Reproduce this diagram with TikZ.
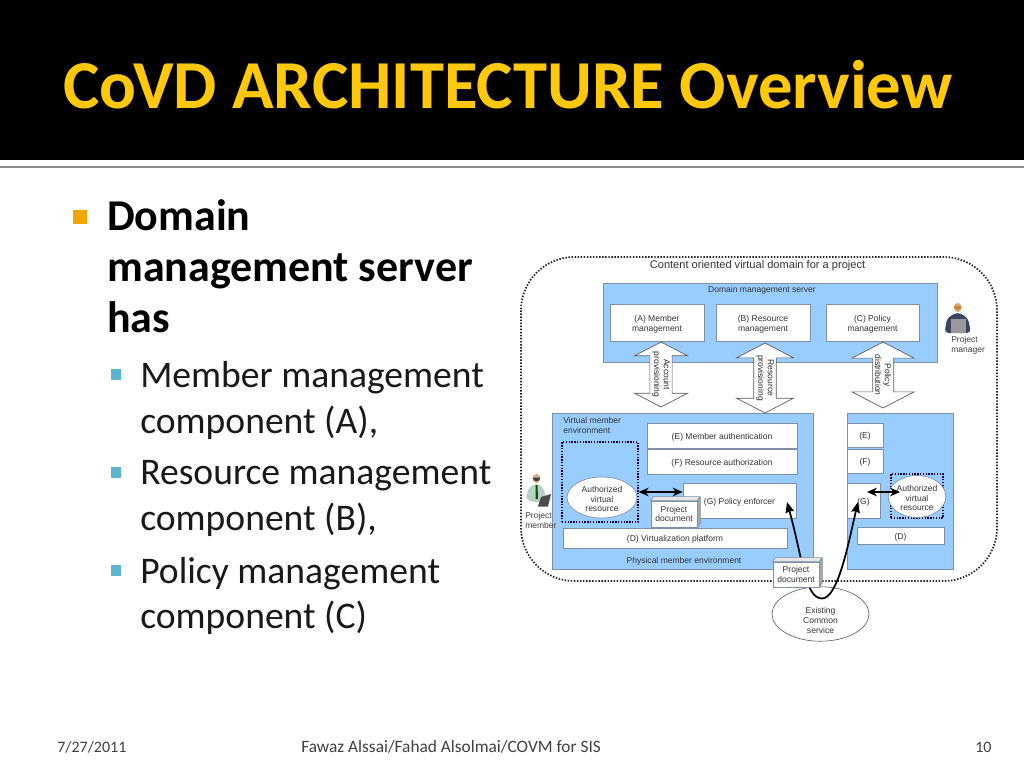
\documentclass[tikz,border=0pt]{standalone}
\usepackage{fontspec}
\setmainfont{Carlito}
\newfontfamily\figfont{Liberation Sans}
\usetikzlibrary{arrows.meta,shapes.geometric,shapes.arrows}
\definecolor{paneblue}{HTML}{99CCFF}
\definecolor{panegrey}{HTML}{7F8FA6}
\definecolor{titlegold}{HTML}{FFC80A}
\definecolor{bulletgold}{HTML}{F0A800}
\definecolor{bulletteal}{HTML}{5BB5CF}
\definecolor{footgrey}{HTML}{404040}
\definecolor{suitnavy}{HTML}{3A4560}
\definecolor{shirtpale}{HTML}{BCCFC6}
\definecolor{skintone}{HTML}{D9A878}
\newlength{\px}
\setlength{\px}{0.75pt}
\tikzset{
    pane/.style={rectangle,draw=panegrey,fill=paneblue,line width=0.6pt,inner sep=0pt},
    compbox/.style={rectangle,draw=panegrey,fill=white,line width=0.6pt,inner sep=0pt,align=center,font=\figfont\fontsize{6.4pt}{7.4pt}\selectfont,text=black!80},
    figtext/.style={inner sep=0pt,align=center,font=\figfont\fontsize{6.4pt}{7.4pt}\selectfont,text=black!80},
    dotbox/.style={rectangle,draw=blue!20!black,densely dotted,line width=1.1pt,inner sep=0pt},
    resource/.style={ellipse,draw=panegrey,fill=white,line width=0.5pt,inner sep=0pt,align=center,font=\figfont\fontsize{6.4pt}{7.4pt}\selectfont,text=black!80},
    flowarrow/.style={double arrow,draw=black!65,fill=white,line width=0.5pt,inner sep=0pt,rotate=-90,align=center,font=\figfont\fontsize{6.4pt}{7.4pt}\selectfont,text=black!85,double arrow tip angle=125},
    boldlink/.style={{Stealth[length=7.5pt,width=6.5pt]}-{Stealth[length=7.5pt,width=6.5pt]},line width=1.3pt},
    fetchlink/.style={-{Stealth[length=8pt,width=6.5pt,inset=1pt]},line width=1.3pt},
    bigtext/.style={anchor=base west,inner sep=0pt,text=black,font=\fontsize{33pt}{38pt}\selectfont\bfseries},
    subtext/.style={anchor=base west,inner sep=0pt,text=black!90,font=\fontsize{28.2pt}{36pt}\selectfont},
    foot/.style={anchor=base west,inner sep=0pt,text=footgrey,font=\fontsize{12pt}{14pt}\selectfont},
    cubetop/.style={fill=black!10,draw=panegrey,line width=0.4pt},
    cubeside/.style={fill=black!35,draw=panegrey,line width=0.4pt}
}
% pushes a label down inside its box
\newcommand{\dropA}{\rule{0pt}{6.8pt}}
\begin{document}
\begin{tikzpicture}[x=0.75pt,y=-0.75pt]
\useasboundingbox (0,0) rectangle (1024,768);
% slide frame
\fill[black] (0,0) rectangle (1024,160);
\fill[black!45] (0,165.5) rectangle (1024,167.5);
\node[anchor=base west,inner sep=0pt,text=titlegold,font=\fontsize{51.5pt}{60pt}\selectfont\bfseries] (title) at (63,108) {CoVD ARCHITECTURE Overview};

% bullets
\fill[bulletgold] (73,210) rectangle (87,224);
\node[bigtext] (dom1) at (107,230) {Domain};
\node[bigtext] (dom2) at (107,281) {management server};
\node[bigtext] (dom3) at (107,332) {has};
\foreach \ypos/\line in {387/Member management,433/component (A){,},484/Resource management,530/component (B){,},583/Policy management,628/component (C)}
    \node[subtext] at (140,\ypos) {\line};
\foreach \ypos in {374.5,472,570}
    \fill[bulletteal] (111,\ypos-5.5) rectangle (121,\ypos+5.5);

% footer
\node[foot] (date) at (57,752) {7/27/2011};
\node[foot,font=\fontsize{13pt}{15pt}\selectfont] (names) at (301,752) {Fawaz Alssai/Fahad Alsolmai/COVM for SIS};
\node[foot] (pageno) at (975,752) {10};

% domain outline
\draw[black!85,dash pattern=on 1.1pt off 1.2pt,line width=1.3pt,rounded corners=40pt] (521,257) rectangle (997,581);
\node[figtext,font=\figfont\fontsize{8.3pt}{9pt}\selectfont] (domtitle) at (757.5,266) {Content oriented virtual domain for a project};

% panes
\node[pane,minimum width=334\px,minimum height=79\px] (server) at (770,322.5) {};
\node[pane,minimum width=261\px,minimum height=156\px] (vme) at (682.5,491) {};
\node[pane,minimum width=106\px,minimum height=156\px] (vme2) at (900,491) {};
\node[figtext] (servertitle) at (762,290.5) {Domain management server};
\node[figtext,align=left,anchor=north west] (vmetitle) at (563,417) {Virtual member\\environment};
\node[figtext] (pmetitle) at (684,561) {Physical member environment};

% server components
\node[compbox,minimum width=94\px,minimum height=37\px] (A) at (657,322.5) {\dropA(A) Member\\management};
\node[compbox,minimum width=94\px,minimum height=37\px] (B) at (763,322.5) {\dropA(B) Resource\\management};
\node[compbox,minimum width=93\px,minimum height=37\px] (C) at (872.5,322.5) {\dropA(C) Policy\\management};

% left environment
\node[compbox,minimum width=150\px,minimum height=25\px] (E) at (722,435.5) {\dropA(E) Member authentication};
\node[compbox,minimum width=150\px,minimum height=25\px] (F) at (722,461.5) {\dropA(F) Resource authorization};
\node[compbox,minimum width=113\px,minimum height=35\px] (G) at (739.5,500.5) {\dropA(G) Policy enforcer};
\node[compbox,minimum width=224\px,minimum height=20\px] (D) at (675,538) {\dropA(D) Virtualization platform};
\node[dotbox,minimum width=76\px,minimum height=80\px] (vault) at (600,482) {};
\node[resource,minimum width=70\px,minimum height=41\px] (res) at (602,497.5) {\dropA Authorized\\virtual\\resource};

% right environment
\node[compbox,minimum width=36\px,minimum height=24\px] (E2) at (865,435) {\dropA(E)};
\node[compbox,minimum width=36\px,minimum height=24\px] (F2) at (865,461) {\dropA(F)};
\node[compbox,minimum width=33\px,minimum height=35\px] (G2) at (863.5,500.5) {\dropA(G)};
\node[compbox,minimum width=87\px,minimum height=17\px] (D2) at (900.5,535.5) {\dropA(D)};
\node[dotbox,minimum width=52\px,minimum height=44\px] (vault2) at (917,496) {};
\node[resource,minimum width=50\px,minimum height=42\px] (res2) at (917,496.5) {\dropA Authorized\\virtual\\resource};

% exchange between domain server and members
\node[flowarrow,minimum height=65\px,minimum width=53\px,double arrow head extend=9.4pt] (account) at (661,374.5) {Account\\provisioning};
\node[flowarrow,minimum height=70\px,minimum width=57\px,double arrow head extend=10.5pt] (resprov) at (765,378) {Resource\\provisioning};
\node[flowarrow,minimum height=66\px,minimum width=62\px,double arrow head extend=12pt] (policy) at (883,375) {Policy\\distribution};

% common service
\node[resource,draw=black!60,minimum width=97\px,minimum height=51\px] (common) at (820.5,614) {\rule{0pt}{14pt}Existing\\Common\\service};
\coordinate (pick) at (822,598.5);
\coordinate (tipleft) at (787,502);
\coordinate (tipright) at (858,502);
\draw[fetchlink] (pick) .. controls (805,598) and (803,560) .. (tipleft);
\draw[fetchlink] (pick) .. controls (838,598) and (848,545) .. (tipright);

% project documents
\node[compbox,minimum width=46\px,minimum height=26\px] (doc) at (674,514) {Project\\document};
\filldraw[cubetop] (doc.north west) -- ++(3,-4) -- ++(46,0) -- (doc.north east) -- cycle;
\filldraw[cubeside] (doc.north east) -- ++(3,-4) -- ++(0,26) -- (doc.south east) -- cycle;
\node[compbox,minimum width=46\px,minimum height=25\px] (doc2) at (796,574.5) {Project\\document};
\filldraw[cubetop] (doc2.north west) -- ++(3,-4) -- ++(46,0) -- (doc2.north east) -- cycle;
\filldraw[cubeside] (doc2.north east) -- ++(3,-4) -- ++(0,25) -- (doc2.south east) -- cycle;

\coordinate (linkG) at (867,492);
\coordinate (linkres) at (900,492);
\draw[boldlink] (vault.east |- 0,492) -- (G.west |- 0,492);
\draw[boldlink] (linkG) -- (linkres);

% project manager
\fill[suitnavy,rounded corners=3pt] (944.5,333) -- (947,318) -- (957.7,312) -- (968,318) -- (971,333) -- cycle;
\fill[black!40] (951,319) rectangle (966,332.5);
\fill[skintone] (957.7,307.5) ellipse (3.8 and 4.6);
\fill[brown!70!orange] (953.9,306) arc (180:0:3.8) -- cycle;
\node[figtext,align=left,anchor=north west,text=black!75] (manager) at (951,336) {Project\\manager};

% project member
\fill[shirtpale,rounded corners=3pt] (526,500) -- (528,488) -- (536.5,483) -- (543,487) -- (547,500) -- (540,503) -- cycle;
\fill[green!35!black] (535.5,485) -- (537.5,485) -- (538,499) -- (535.5,499) -- cycle;
\fill[black!70] (538,506.5) -- (548,506.5) -- (551,494) -- (541,497) -- cycle;
\fill[skintone] (536.5,478.5) ellipse (3.8 and 4.6);
\fill[black!75] (532.7,477.5) arc (180:0:3.8) -- cycle;
\node[figtext,align=left,anchor=north west,text=black!75] (member) at (525,512) {Project\\member};
\end{tikzpicture}
\end{document}
